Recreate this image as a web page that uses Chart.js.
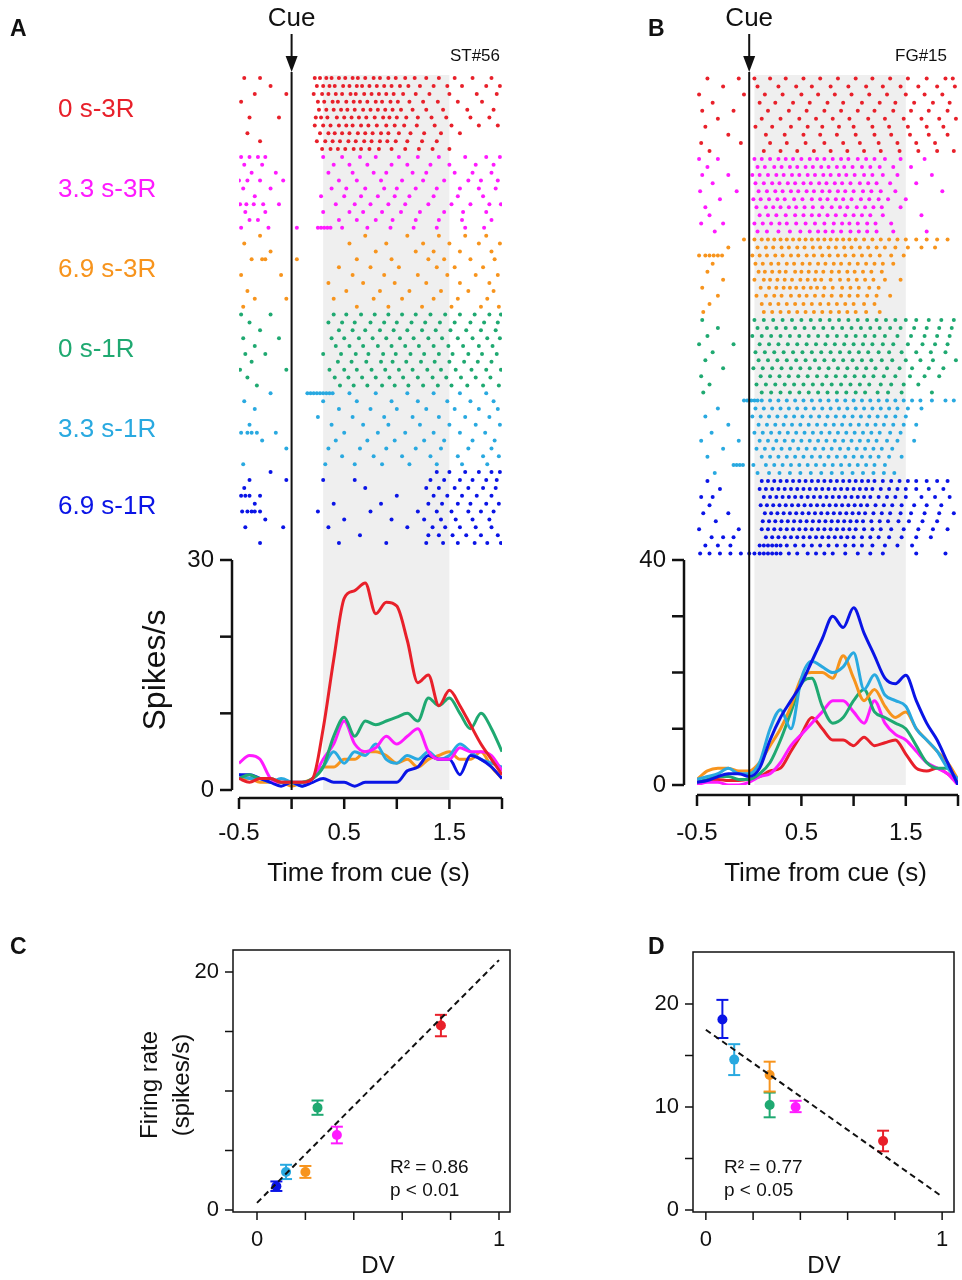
<!DOCTYPE html>
<html>
<head>
<meta charset="utf-8">
<script src="https://cdn.jsdelivr.net/npm/chart.js@4.4.1/dist/chart.umd.min.js"></script>
<style>
  body { margin: 0; background: #fff; font-family: "Liberation Sans", Arial, sans-serif; }
  #wrap { position: relative; width: 962px; height: 1280px; }
  canvas { position: absolute; left: 0; top: 0; }
  .lbl { position: absolute; font-size: 26px; line-height: 30px; }
</style>
</head>
<body>
<div id="wrap">
  <canvas id="cA" width="962" height="1280"></canvas>
  <canvas id="cB" width="962" height="1280"></canvas>
  <canvas id="cC" width="962" height="1280"></canvas>
  <canvas id="cD" width="962" height="1280"></canvas>
  <div class="lbl" style="left:58px;top:93px;color:#e8202a">0 s-3R</div>
  <div class="lbl" style="left:58px;top:173px;color:#ff1aff">3.3 s-3R</div>
  <div class="lbl" style="left:58px;top:253px;color:#f7941d">6.9 s-3R</div>
  <div class="lbl" style="left:58px;top:333px;color:#1fa971">0 s-1R</div>
  <div class="lbl" style="left:58px;top:413px;color:#29a9e0">3.3 s-1R</div>
  <div class="lbl" style="left:58px;top:490px;color:#0a14e6">6.9 s-1R</div>
</div>
<script>
// conditions, in raster order (top to bottom)
const condNames = ['0 s-3R', '3.3 s-3R', '6.9 s-3R', '0 s-1R', '3.3 s-1R', '6.9 s-1R'];
const condColors = ['#e8202a', '#ff1aff', '#f7941d', '#1fa971', '#29a9e0', '#0a14e6'];

// PSTH time bins (s)
const timeBins = [-0.5,-0.4,-0.3,-0.2,-0.1,0,0.1,0.2,0.3,0.4,0.5,0.6,0.7,0.8,0.9,1.0,1.1,1.2,1.3,1.4,1.5,1.6,1.7,1.8,1.9,2.0];

// panel A firing rates (spikes/s)
const rateA = [
  [1.5,1,1.5,1.5,1,1,1,1.5,8,17,25,26,27,23,24.5,24,19.5,14,15,11,13,11,8.5,6,4,2],
  [3.5,4.5,4,1.5,1,1,1,1.5,4,6,9,6,5,5.5,7,6,7,8,5,4,4,5.5,5,5,4.5,2.5],
  [1.5,1.5,1,1,1,0.5,1,1.5,3,3,4,4,5,5,4.5,3.5,4,3,4,4.5,5,4,4,5,3,1.5],
  [1.5,2,1.5,1.5,1,1,1,1.5,3,7,9.5,7,9,8.5,9,9.5,10,9,12,11,12,10,8,10,8,5],
  [2,1.5,1.5,1,1.5,1,0.5,1.5,3,5,3.5,5,4.5,6,4,3.5,4.5,4,5,4,4.5,6,5,4,3.5,3],
  [2,2,1.5,1,0.5,1,0.5,1,1.5,1,1,0.5,1,1,1,1,2.5,3,4.5,4,4,2,4.5,4,3,1.5]
];
// panel B firing rates (spikes/s)
const rateB = [
  [0.5,0.8,1,0.8,0.8,1,1.5,2.5,3,6,9,12,10,8,8,7,8.5,7,7.5,8,5.5,3,2.5,3,2,0.5],
  [0,0.5,0.5,0,0,0.5,1.5,2,4,7,9,11,13,15,15,13,11,15,11,9,8,6,4,3,2,0],
  [1,2.5,3,3,2.5,2.5,4,7,10,14,19,20,20,19,23,19,15,17,14,12,13,10,8,6,4,1],
  [0.5,1,1.5,1.5,1,1,2,4,8,13,18,19,14,11,12,15,17,13,12,11,10,7,4,3,3,1],
  [1,1.5,2,3,2,2,4,10,13.4,10,19,22,21,20,21,23.5,17,19.6,16,15,14,10,8,6,3,1],
  [0.5,0.8,1.5,2,2,1.5,3,8,12,15,18,22,26,30,28,31.5,27,23,19,18,19.5,15,11,8,4,0]
];

// raster spike times (centiseconds from cue), one string per trial, per condition
const spikesA = [
  ["-45 -30 22 27 33 38 45 51 58 63 70 78 84 92 99 108 117 128 140 155 172 190","-20 24 30 36 41 49 55 62 67 74 81 88 95 103 111 122 135 148 162 185 198","-35 -5 21 29 35 42 48 56 61 69 76 83 90 97 106 118 131 150 176 195","-48 25 31 39 44 52 59 65 72 80 86 94 101 112 125 139 158 181","26 33 40 47 53 60 68 75 82 89 96 104 115 128 144 167 192","-40 -12 23 28 34 43 50 57 64 71 79 87 93 100 109 120 133 147 170 188","22 30 37 45 52 58 66 73 81 90 98 107 119 136 152 178 196","-42 27 35 41 48 55 63 70 77 85 92 102 113 126 142 160","-30 24 32 39 46 54 61 69 76 84 91 99 110 124 138","29 37 44 51 59 66 74 83 95 108 121 134 150"],
  ["-48 -40 -32 -25 30 48 65 80 102 120 140 165 185 198","-45 -28 40 55 72 95 110 132 150 175 192","-38 -15 35 58 78 90 115 128 155 172 190","-50 -42 -30 -8 45 62 85 105 125 145 168 180 196","-46 -20 38 52 70 88 100 118 138 160 178 194","-35 28 50 66 82 98 112 135 158 182","-49 -43 -36 -27 -12 42 60 75 92 108 130 152 170 188 199","-44 -25 30 55 68 86 104 122 145 163 185","-40 -32 45 62 80 96 118 140 162 190","-48 -22 5 25 28 31 34 37 48 72 94 116 138 165 183"],
  ["-30 70 110 140 165 185","-45 55 90 125 150 178 198","-20 80 118 135 160 190","-38 -28 -25 5 62 95 130 145 170 193","45 75 102 138 155 182","-48 -10 58 88 120 148 175 196","35 68 98 128 160 188","-42 52 84 112 142 168 192","-35 -5 40 78 105 135 158 186","-46 62 92 124 152 180 197"],
  ["-48 -20 40 52 66 79 92 105 118 132 146 160 174 188 199","-40 35 48 60 75 88 100 114 127 141 155 170 183 196","-30 45 58 70 84 97 110 124 137 151 166 180 194","-46 -12 38 50 64 77 90 103 116 130 143 158 172 186 198","-35 42 55 68 82 95 108 121 135 149 163 178 191","-44 -25 30 47 61 73 87 99 113 126 140 153 168 181 195","-38 44 57 71 85 96 109 123 136 150 164 177 190","-49 -5 36 50 62 76 89 102 115 129 142 156 171 185 199","-42 41 54 67 80 93 106 120 134 147 161 175 189","-33 46 59 72 86 98 111 125 139 152 167 182 197"],
  ["-20 15 18 21 24 27 30 33 36 39 55 80 110 135 160 185","-45 30 62 95 120 148 170 192","-35 45 75 100 128 155 178 196","25 58 88 115 140 165 188","-40 38 68 92 122 150 175 198","-48 -42 -38 -33 -15 50 82 108 135 160 184","-28 42 72 98 126 145 172 193","-5 35 65 90 118 142 168 190","48 78 105 132 158 182 197","-46 32 60 86 112 138 162 186"],
  ["-20 138 150 165 178 190 198","-40 -5 30 60 132 145 160 172 185 195","-45 70 128 140 155 168 182 194","-48 -44 -40 -30 100 135 148 162 176 190","-35 40 85 130 143 158 170 185 197","-47 -42 -38 -35 -30 25 75 120 138 152 168 180 192","-25 50 95 126 142 156 172 188","-44 -8 35 110 134 146 160 175 190","65 130 140 153 166 180 196","-30 45 90 128 144 158 174 186 199"]
];
const spikesB = [
  ["-40 -10 5 20 35 52 68 85 102 118 135 152 170 188 195","-25 8 28 45 60 78 95 112 128 145 162 180 197","-48 -5 15 32 50 66 82 98 115 132 150 168 185","-35 10 25 42 58 75 90 108 125 140 158 176 192","-45 -15 18 38 55 72 88 104 120 138 155 172 190","-30 12 30 48 64 80 96 114 130 148 165 182 198","-42 6 22 40 56 70 86 100 118 134 152 170 186","-20 16 34 52 68 84 102 120 136 154 172 190","-46 -8 20 36 54 72 90 106 124 142 160 178","-38 14 30 46 62 78 94 110 126 144 162 180 196"],
  ["-48 -30 5 12 20 28 35 42 50 58 65 72 80 88 95 104 112 120 130 145 168","-40 8 15 24 31 39 46 54 61 69 76 84 91 99 108 116 125 138 155","-45 -20 3 10 18 26 33 41 48 56 63 71 78 86 93 101 110 118 128 142 175","-35 6 14 22 29 37 44 52 59 67 74 82 89 97 106 114 122 135 160","-47 -12 9 17 25 32 40 47 55 62 70 77 85 92 100 109 117 126 140 185","-28 4 11 19 27 34 43 51 60 68 75 83 90 98 107 115 124 133 150","-42 7 16 23 30 38 45 53 61 70 79 87 94 103 111 119 127 145","-38 10 18 26 35 44 52 60 67 75 83 92 100 108 116 128 165","-46 -25 5 13 21 29 36 45 54 63 72 81 89 96 104 113 121 136","-33 8 17 28 39 49 58 66 73 80 88 97 105 113 122 138 170"],
  ["-5 5 12 18 24 30 36 42 48 54 60 66 72 78 84 90 96 102 110 118 126 134 142 150 160 170 180 190","-20 8 16 23 31 38 46 53 61 68 76 83 91 98 106 114 122 130 140 152 165 178","-48 -42 -38 -34 -30 -26 3 10 17 25 32 40 47 55 62 70 77 85 92 100 108 116 125 136 148","-35 6 13 21 28 36 43 51 58 66 73 81 88 96 104 112 120 128 138","-40 9 15 22 29 35 44 50 57 64 71 79 86 94 101 109 117 127","-25 5 14 20 27 34 41 49 56 63 69 78 87 95 103 111 119 130 145","-45 11 19 26 33 39 45 52 59 65 72 80 89 97 105 115 124","-30 7 16 24 31 40 48 55 63 71 79 88 96 104 113 122 135","-38 12 20 28 36 44 52 60 68 76 84 92 100 110 120","-44 14 22 30 38 46 54 62 70 78 86 94 102 112 125"],
  ["-45 5 14 23 32 41 50 59 68 77 86 95 104 113 122 131 140 150 160 172 184 196","-30 8 17 26 35 44 53 62 71 80 89 98 107 116 125 135 145 158 170 182 194","-40 3 12 21 30 39 48 57 66 75 84 93 102 111 120 130 142 155 168 180 192","-48 -15 10 19 28 37 46 55 64 73 82 91 100 109 118 128 138 152 166 178 190","-35 6 15 24 33 42 51 60 69 78 87 96 105 114 124 134 146 160 174 188","-42 9 18 27 36 45 54 63 72 81 90 99 108 117 127 137 150 164 176 198","-25 4 13 22 31 40 49 58 67 76 85 94 103 112 121 132 144 156 172 186","-46 11 20 29 38 47 56 65 74 83 92 101 110 119 129 140 154 168 182","-38 7 16 25 34 43 52 61 70 79 88 97 106 115 126 136 148 162","-44 12 21 30 39 48 57 66 75 84 93 102 111 123 133 146 175"],
  ["-5 -2 2 5 8 12 20 28 36 44 52 60 68 76 84 92 100 108 116 124 132 140 148 156 164 175 188 196","-30 6 14 22 30 38 46 54 62 70 78 86 94 102 110 118 126 134 142 152 165","-42 3 11 19 27 35 43 51 59 67 75 83 91 99 107 115 123 131 140 150","-20 9 17 25 33 41 49 57 65 73 81 89 97 105 113 121 129 138 148 160","-36 5 13 21 29 37 45 53 61 69 77 85 93 101 109 117 125 135 145","-46 -10 10 18 26 34 42 50 58 66 74 82 90 98 106 114 122 132 142 158","-25 7 15 23 31 39 47 55 63 71 79 87 95 103 111 119 127 137","-40 12 20 28 36 44 52 60 68 76 84 92 100 108 116 124 134 146","-15 -12 -9 -6 4 16 24 32 40 48 56 64 72 80 88 96 104 112 120 130","-33 8 19 29 39 49 59 69 79 89 99 109 119 129 139"],
  ["-40 12 18 24 30 36 42 48 54 60 66 72 78 84 90 96 102 108 114 120 128 136 144 152 160 170 180 190","-28 10 16 22 28 34 40 46 52 58 64 70 76 82 88 94 100 106 112 118 126 134 142 150 160 172 186","-46 -35 14 20 26 32 38 44 50 56 62 68 74 80 86 92 98 104 110 116 124 132 140 150 165 178 192","-38 11 17 23 29 35 41 47 53 59 65 71 77 83 89 95 101 107 113 121 129 137 146 158 170 184","-44 -20 15 21 27 33 39 45 51 57 63 69 75 81 87 93 99 105 111 119 127 135 145 155 168 182 196","-32 13 19 25 31 37 43 49 55 61 67 73 79 85 91 97 103 109 117 125 133 143 153 166 180","-48 -10 12 18 24 30 36 42 48 54 60 66 72 78 84 90 96 102 110 118 126 136 148 162 176 190","-36 -25 -15 16 22 28 34 40 46 52 58 64 70 76 82 88 94 100 108 116 124 134 146 160 174","-42 -30 -18 10 14 18 22 26 30 36 44 52 60 68 76 84 92 100 108 118 130 142 156","-47 -38 -28 -18 -8 0 5 10 14 18 22 26 30 38 46 56 64 72 80 92 104 116 128 160 188"]
];

// scatter panels: decision value vs firing rate, with error bar ends
const dvC = [0.08, 0.12, 0.2, 0.25, 0.33, 0.76];
const rateC = [2.0, 3.2, 3.2, 8.6, 6.3, 15.5];
const errLoC = [1.6, 2.6, 2.7, 8.0, 5.6, 14.6];
const errHiC = [2.4, 3.8, 3.7, 9.2, 7.0, 16.4];
const fitC = [0.6, 21.0];   // fit line at DV=0 and DV=1
const dvD = [0.07, 0.12, 0.27, 0.27, 0.38, 0.75];
const rateD = [18.5, 14.6, 13.1, 10.2, 10.0, 6.7];
const errLoD = [16.7, 13.1, 11.5, 9.0, 9.5, 5.7];
const errHiD = [20.4, 16.1, 14.4, 11.4, 10.6, 7.7];
const fitD = [17.5, 1.3];
// scatter marker colours follow condition order: 6.9s-1R,3.3s-1R,6.9s-3R,0s-1R,3.3s-3R,0s-3R
const scatterOrder = [5, 4, 2, 3, 1, 0];

const FONT = '"Liberation Sans", Arial, sans-serif';

function parseTrials(list, offset) {
  const pts = [];
  list.forEach((s, t) => {
    s.split(' ').forEach(v => pts.push({ x: Number(v) / 100, y: offset + t }));
  });
  return pts;
}

function psthChart(id, rates, spikes, cfg) {
  const datasets = [];
  spikes.forEach((trials, c) => {
    datasets.push({
      data: parseTrials(trials, c * 10), yAxisID: 'yr', showLine: false,
      pointRadius: 2, pointBackgroundColor: condColors[c], pointBorderWidth: 0
    });
  });
  rates.forEach((r, c) => {
    datasets.push({
      data: timeBins.map((t, i) => ({ x: t, y: r[i] })), yAxisID: 'y', showLine: true,
      borderColor: condColors[c], borderWidth: 3, pointRadius: 0, tension: 0.4,
      cubicInterpolationMode: 'monotone'
    });
  });
  // draw order of the rate curves, last on top
  cfg.lineOrder.forEach((c, k) => { datasets[6 + c].order = -k; });

  const decor = {
    id: 'decor',
    beforeDatasetsDraw(chart) {
      const { ctx, scales: { x } } = chart;
      ctx.save();
      ctx.fillStyle = '#efefef';
      ctx.fillRect(x.getPixelForValue(cfg.band[0]), cfg.bandTop,
        x.getPixelForValue(cfg.band[1]) - x.getPixelForValue(cfg.band[0]), cfg.y0 - cfg.bandTop);
      ctx.restore();
    },
    afterDatasetsDraw(chart) {
      const { ctx, scales: { x, y } } = chart;
      ctx.save();
      const cx = x.getPixelForValue(0);
      ctx.strokeStyle = '#111'; ctx.fillStyle = '#111';
      ctx.lineWidth = 2;
      ctx.beginPath(); ctx.moveTo(cx, 72); ctx.lineTo(cx, cfg.y0); ctx.stroke();
      ctx.beginPath(); ctx.moveTo(cx, 34); ctx.lineTo(cx, 62); ctx.stroke();
      ctx.beginPath(); ctx.moveTo(cx - 6, 56); ctx.lineTo(cx + 6, 56); ctx.lineTo(cx, 72); ctx.closePath(); ctx.fill();
      ctx.font = '26px ' + FONT; ctx.textAlign = 'center'; ctx.textBaseline = 'middle';
      ctx.fillText('Cue', cx, 19);
      ctx.font = '17px ' + FONT; ctx.textAlign = 'right';
      ctx.fillText(cfg.tag, cfg.tagX, 56);
      ctx.font = 'bold 23px ' + FONT; ctx.textAlign = 'left';
      ctx.fillText(cfg.letter, cfg.letterX, 30);
      // y axis
      const sx = cfg.spineX;
      ctx.lineWidth = 2.5;
      ctx.beginPath(); ctx.moveTo(sx, y.getPixelForValue(0)); ctx.lineTo(sx, y.getPixelForValue(cfg.yTicks[cfg.yTicks.length - 1])); ctx.stroke();
      ctx.font = '24px ' + FONT; ctx.textAlign = 'right';
      cfg.yTicks.forEach(v => {
        const py = y.getPixelForValue(v);
        ctx.beginPath(); ctx.moveTo(sx, py); ctx.lineTo(sx - 12, py); ctx.stroke();
      });
      cfg.yLabels.forEach(v => ctx.fillText(String(v), sx - 18, y.getPixelForValue(v)));
      // x axis
      const ax = cfg.xAxisY;
      ctx.beginPath(); ctx.moveTo(x.getPixelForValue(-0.5), ax); ctx.lineTo(x.getPixelForValue(2), ax); ctx.stroke();
      [-0.5, 0, 0.5, 1, 1.5, 2].forEach(v => {
        const px = x.getPixelForValue(v);
        ctx.beginPath(); ctx.moveTo(px, ax); ctx.lineTo(px, ax + 11); ctx.stroke();
      });
      ctx.textAlign = 'center';
      [-0.5, 0.5, 1.5].forEach(v => ctx.fillText(String(v), x.getPixelForValue(v), 833));
      ctx.font = '26px ' + FONT;
      ctx.fillText('Time from cue (s)', x.getPixelForValue(0.75) - 2, 874);
      if (cfg.yTitle) {
        ctx.translate(cfg.yTitleX, 670); ctx.rotate(-Math.PI / 2);
        ctx.font = '32px ' + FONT; ctx.fillText(cfg.yTitle, 0, 0);
      }
      ctx.restore();
    }
  };

  new Chart(document.getElementById(id), {
    type: 'scatter',
    data: { datasets },
    options: {
      responsive: false, animation: false, devicePixelRatio: 1,
      layout: { padding: { left: cfg.left, right: 962 - cfg.right, top: 60, bottom: 1280 - cfg.y0 } },
      plugins: { legend: { display: false }, tooltip: { enabled: false } },
      scales: {
        x: { type: 'linear', min: -0.5, max: 2.0, display: false },
        y: { min: 0, max: cfg.yMax, display: false },
        yr: { min: cfg.rMin, max: cfg.rMax, reverse: true, display: false }
      }
    },
    plugins: [decor]
  });
}

psthChart('cA', rateA, spikesA, {
  left: 239, right: 502, y0: 790, yMax: 730 / 230 * 30, rMin: -2.3, rMax: -2.3 + 730 / 7.88,
  band: [0.3, 1.5], bandTop: 75, tag: 'ST#56', tagX: 500, letter: 'A', letterX: 10,
  spineX: 232, yTicks: [0, 10, 20, 30], yLabels: [0, 30], xAxisY: 798,
  yTitle: 'Spikes/s', yTitleX: 156, lineOrder: [2, 4, 5, 1, 3, 0]
});
psthChart('cB', rateB, spikesB, {
  left: 697, right: 958, y0: 785, yMax: 725 / 225 * 40, rMin: -2.3, rMax: -2.3 + 725 / 8.05,
  band: [0.05, 1.5], bandTop: 75, tag: 'FG#15', tagX: 947, letter: 'B', letterX: 648,
  spineX: 684, yTicks: [0, 10, 20, 30, 40], yLabels: [0, 40], xAxisY: 795,
  yTitle: null, lineOrder: [0, 1, 3, 2, 4, 5]
});

function scatterChart(id, dv, rate, lo, hi, fit, cfg) {
  const datasets = [{
    data: [{ x: 0, y: fit[0] }, { x: 1, y: fit[1] }], showLine: true, borderColor: '#111',
    borderWidth: 2, borderDash: [6, 4], pointRadius: 0
  }];
  dv.forEach((v, i) => {
    const col = condColors[scatterOrder[i]];
    datasets.push({
      data: [{ x: v, y: lo[i] }, { x: v, y: hi[i] }], showLine: true, borderColor: col,
      borderWidth: 2, pointStyle: 'line', pointRadius: 6, pointBorderColor: col, pointBorderWidth: 2
    });
    datasets.push({ data: [{ x: v, y: rate[i] }], pointRadius: 5, pointBackgroundColor: col, pointBorderWidth: 0 });
  });
  const frame = {
    id: 'frame',
    afterDatasetsDraw(chart) {
      const { ctx, chartArea: a, scales: { x, y } } = chart;
      ctx.save();
      ctx.strokeStyle = '#111'; ctx.fillStyle = '#111'; ctx.lineWidth = 1.5;
      ctx.strokeRect(a.left, a.top, a.right - a.left, a.bottom - a.top);
      ctx.font = '22px ' + FONT; ctx.textBaseline = 'middle';
      [0, 0.2, 0.4, 0.6, 0.8, 1].forEach(v => {
        const px = x.getPixelForValue(v);
        ctx.beginPath(); ctx.moveTo(px, a.bottom); ctx.lineTo(px, a.bottom + 8); ctx.stroke();
      });
      ctx.textAlign = 'center';
      [0, 1].forEach(v => ctx.fillText(String(v), x.getPixelForValue(v), a.bottom + 28));
      ctx.font = '24px ' + FONT;
      ctx.fillText('DV', x.getPixelForValue(0.5), 1266);
      ctx.font = '22px ' + FONT;
      [0, 5, 10, 15, 20].forEach(v => {
        const py = y.getPixelForValue(v);
        ctx.beginPath(); ctx.moveTo(a.left, py); ctx.lineTo(a.left - 8, py); ctx.stroke();
      });
      ctx.textAlign = 'right';
      cfg.yLabels.forEach(v => ctx.fillText(String(v), a.left - 14, y.getPixelForValue(v)));
      ctx.textAlign = 'left'; ctx.font = '19px ' + FONT;
      ctx.fillText(cfg.r2, cfg.txtX, cfg.txtY);
      ctx.fillText(cfg.p, cfg.txtX, cfg.txtY + 23);
      ctx.font = 'bold 23px ' + FONT;
      ctx.fillText(cfg.letter, cfg.letterX, 948);
      if (cfg.yTitle) {
        ctx.textAlign = 'center'; ctx.font = '24px ' + FONT;
        ctx.translate(150, 1085); ctx.rotate(-Math.PI / 2);
        ctx.fillText('Firing rate', 0, 0);
        ctx.fillText('(spikes/s)', 0, 32);
      }
      ctx.restore();
    }
  };
  new Chart(document.getElementById(id), {
    type: 'scatter',
    data: { datasets },
    options: {
      responsive: false, animation: false, devicePixelRatio: 1,
      layout: { padding: { left: cfg.l, right: 962 - cfg.r, top: cfg.t, bottom: 1280 - cfg.b } },
      plugins: { legend: { display: false }, tooltip: { enabled: false } },
      scales: {
        x: { type: 'linear', min: cfg.xMin, max: cfg.xMax, display: false },
        y: { min: cfg.yMin, max: cfg.yMax, display: false }
      }
    },
    plugins: [frame]
  });
}

scatterChart('cC', dvC, rateC, errLoC, errHiC, fitC, {
  l: 233, r: 510, t: 950, b: 1212, xMin: -24 / 242, xMax: 253 / 242, yMin: -2 / 11.9, yMax: 260 / 11.9,
  yLabels: [0, 20], r2: 'R\u00b2 = 0.86', p: 'p < 0.01', txtX: 390, txtY: 1168, letter: 'C', letterX: 10, yTitle: true
});
scatterChart('cD', dvD, rateD, errLoD, errHiD, fitD, {
  l: 693, r: 957, t: 952, b: 1212, xMin: -13 / 239, xMax: 251 / 239, yMin: -2 / 10.3, yMax: 258 / 10.3,
  yLabels: [0, 10, 20], r2: 'R\u00b2 = 0.77', p: 'p < 0.05', txtX: 724, txtY: 1168, letter: 'D', letterX: 648, yTitle: false
});
</script>
</body>
</html>
